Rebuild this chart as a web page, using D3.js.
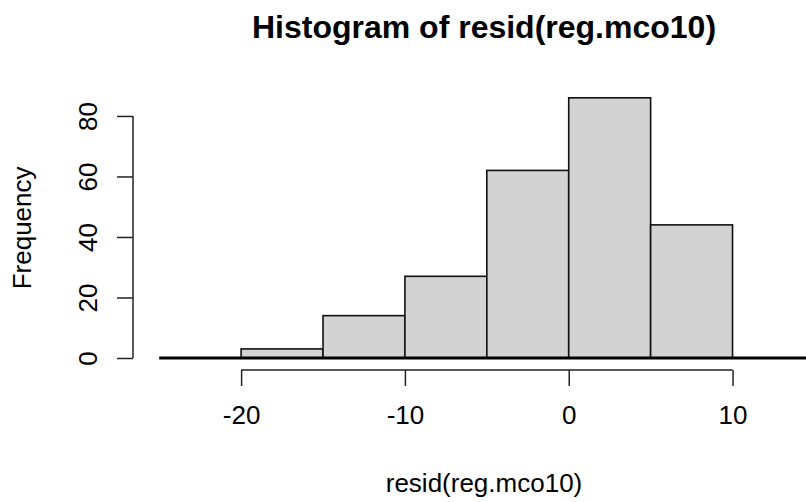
<!DOCTYPE html>
<html>
<head>
<meta charset="utf-8">
<script src="https://cdn.jsdelivr.net/npm/d3@7"></script>
<style>
  body { margin: 0; background: #fff; }
  svg { display: block; font-family: "Liberation Sans", Arial, sans-serif; }
</style>
</head>
<body>
<div id="chart"></div>
<script>
// histogram bins of resid(reg.mco10)
const breaks = [-20, -15, -10, -5, 0, 5, 10];
const counts = [3, 14, 27, 62, 86, 44];
const xTicks = [-20, -10, 0, 10];
const yTicks = [0, 20, 40, 60, 80];
// density curve drawn over the histogram (flat at frequency scale)
const densX = [-25, 17];
const densY = [0, 0];

const width = 806, height = 502;
const fs = 26; // base font size

const svg = d3.select('#chart').append('svg')
    .attr('width', width)
    .attr('height', height);

svg.append('rect').attr('width', width).attr('height', height).attr('fill', '#fff');

// plot region (runs a bit past the right edge of the picture)
const x = d3.scaleLinear().domain([-26.6, 16.5]).range([133, 839]);
const y = d3.scaleLinear().domain([-3.44, 89.44]).range([368.4, 87.4]);

const bins = counts.map((c, i) => ({ x0: breaks[i], x1: breaks[i + 1], n: c }));

// bars
svg.append('g')
    .selectAll('rect')
    .data(bins)
    .enter().append('rect')
    .attr('x', d => x(d.x0))
    .attr('y', d => y(d.n))
    .attr('width', d => x(d.x1) - x(d.x0))
    .attr('height', d => y(0) - y(d.n))
    .attr('fill', '#d3d3d3')
    .attr('stroke', '#111')
    .attr('stroke-width', 1.6);

// density line
const line = d3.line().x((d, i) => x(densX[i])).y((d, i) => y(densY[i]));
svg.append('path')
    .datum(densX)
    .attr('d', line)
    .attr('fill', 'none')
    .attr('stroke', '#000')
    .attr('stroke-width', 3);

// x axis
const xAxis = svg.append('g')
    .attr('transform', `translate(0, 370)`)
    .call(d3.axisBottom(x).tickValues(xTicks).tickFormat(d => String(d))
        .tickSize(16).tickSizeOuter(0).tickPadding(20));
xAxis.select('.domain').remove();
xAxis.append('line')
    .attr('x1', x(d3.min(xTicks))).attr('x2', x(d3.max(xTicks)))
    .attr('stroke', '#222').attr('stroke-width', 1.5);
xAxis.selectAll('.tick line').attr('stroke', '#222').attr('stroke-width', 1.5);
xAxis.selectAll('.tick text')
    .attr('font-size', fs)
    .attr('font-family', '"Liberation Sans", Arial, sans-serif')
    .attr('fill', '#000')
    .attr('dy', '0.71em');

// y axis
const yAxis = svg.append('g')
    .attr('transform', `translate(133, 0)`)
    .call(d3.axisLeft(y).tickValues(yTicks).tickFormat(d => String(d))
        .tickSize(16).tickSizeOuter(0));
yAxis.select('.domain').remove();
yAxis.append('line')
    .attr('y1', y(d3.min(yTicks))).attr('y2', y(d3.max(yTicks)))
    .attr('stroke', '#222').attr('stroke-width', 1.5);
yAxis.selectAll('.tick line').attr('stroke', '#222').attr('stroke-width', 1.5);
yAxis.selectAll('.tick text')
    .attr('font-size', fs)
    .attr('font-family', '"Liberation Sans", Arial, sans-serif')
    .attr('fill', '#000')
    .attr('x', null).attr('dy', null)
    .attr('text-anchor', 'middle')
    .attr('transform', 'translate(-36, 0) rotate(-90)');

// titles
svg.append('text')
    .attr('x', 484).attr('y', 38)
    .attr('text-anchor', 'middle')
    .attr('font-size', 32)
    .attr('font-weight', 'bold')
    .text('Histogram of resid(reg.mco10)');

svg.append('text')
    .attr('x', 484).attr('y', 492)
    .attr('text-anchor', 'middle')
    .attr('font-size', fs)
    .text('resid(reg.mco10)');

svg.append('text')
    .attr('transform', `translate(31, ${y(43)}) rotate(-90)`)
    .attr('text-anchor', 'middle')
    .attr('font-size', fs)
    .text('Frequency');
</script>
</body>
</html>
